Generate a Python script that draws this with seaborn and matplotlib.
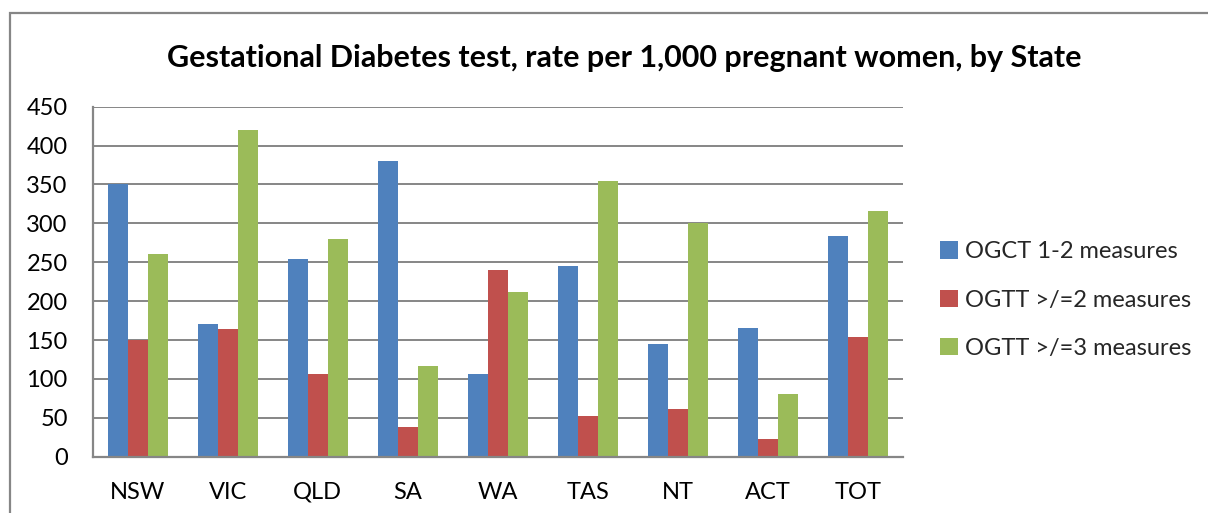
import matplotlib
matplotlib.use("Agg")
import matplotlib.pyplot as plt
from matplotlib.patches import Rectangle
import seaborn as sns
import pandas as pd

states = ["NSW", "VIC", "QLD", "SA", "WA", "TAS", "NT", "ACT", "TOT"]
series_names = ["OGCT 1-2 measures", "OGTT >/=2 measures", "OGTT >/=3 measures"]
ogct_1_2 = [350, 170, 254, 380, 106, 245, 145, 165, 284]
ogtt_ge2 = [150, 164, 106, 38, 240, 52, 61, 23, 154]
ogtt_ge3 = [261, 420, 280, 117, 212, 355, 301, 80, 316]
colors = ["#4F81BD", "#C0504D", "#9BBB59"]
yticks = [0, 50, 100, 150, 200, 250, 300, 350, 400, 450]
title = "Gestational Diabetes test, rate per 1,000 pregnant women, by State"

rows = []
for name, vals in zip(series_names, [ogct_1_2, ogtt_ge2, ogtt_ge3]):
    for s, v in zip(states, vals):
        rows.append({"State": s, "Series": name, "Value": v})
df = pd.DataFrame(rows)

sns.set_theme(style="white")
plt.rcParams["font.family"] = ["Lato", "DejaVu Sans"]

W, H = 1208, 513
fig = plt.figure(figsize=(W / 100, H / 100), dpi=100)
ax = fig.add_axes([92.7 / W, 1 - 456.7 / H, (902.7 - 92.7) / W, (456.7 - 106.7) / H])

sns.barplot(data=df, x="State", y="Value", hue="Series", palette=colors,
            width=0.667, saturation=1, linewidth=0, ax=ax, legend=False, errorbar=None)

grid_c = "#868686"
ax.set_ylim(0, 450)
ax.set_xlim(-0.5, len(states) - 0.5)
ax.set_yticks(yticks)
ax.set_yticklabels([str(t) for t in yticks])
ax.yaxis.grid(True, color=grid_c, linewidth=1.4)
ax.set_axisbelow(True)
for sp in ["top", "right"]:
    ax.spines[sp].set_visible(False)
for sp in ["left", "bottom"]:
    ax.spines[sp].set_color(grid_c)
    ax.spines[sp].set_linewidth(1.6)
ax.tick_params(axis="y", length=0, pad=18, labelsize=17, labelcolor="black")
ax.tick_params(axis="x", length=0, pad=18, labelsize=17, labelcolor="black")
ax.set_xlabel("")
ax.set_ylabel("")

handles = [Rectangle((0, 0), 1, 1, facecolor=c, edgecolor="none") for c in colors]
leg = fig.legend(handles, series_names, loc="center left",
                 bbox_to_anchor=(940 / W, 1 - 300 / H), frameon=False,
                 fontsize=17, handlelength=0.75, handleheight=0.75,
                 handletextpad=0.3, labelspacing=1.15, borderaxespad=0,
                 borderpad=0)

fig.text(624 / W, 1 - 58 / H, title, ha="center", va="center",
         fontsize=22, fontweight="bold", color="black")

border = Rectangle((10 / W, -0.2), 1.5, (1 - 13 / H) + 0.2, transform=fig.transFigure,
                   fill=False, edgecolor=grid_c, linewidth=1.6, clip_on=False)
fig.patches.append(border)

fig.savefig("out.png", dpi=100)
